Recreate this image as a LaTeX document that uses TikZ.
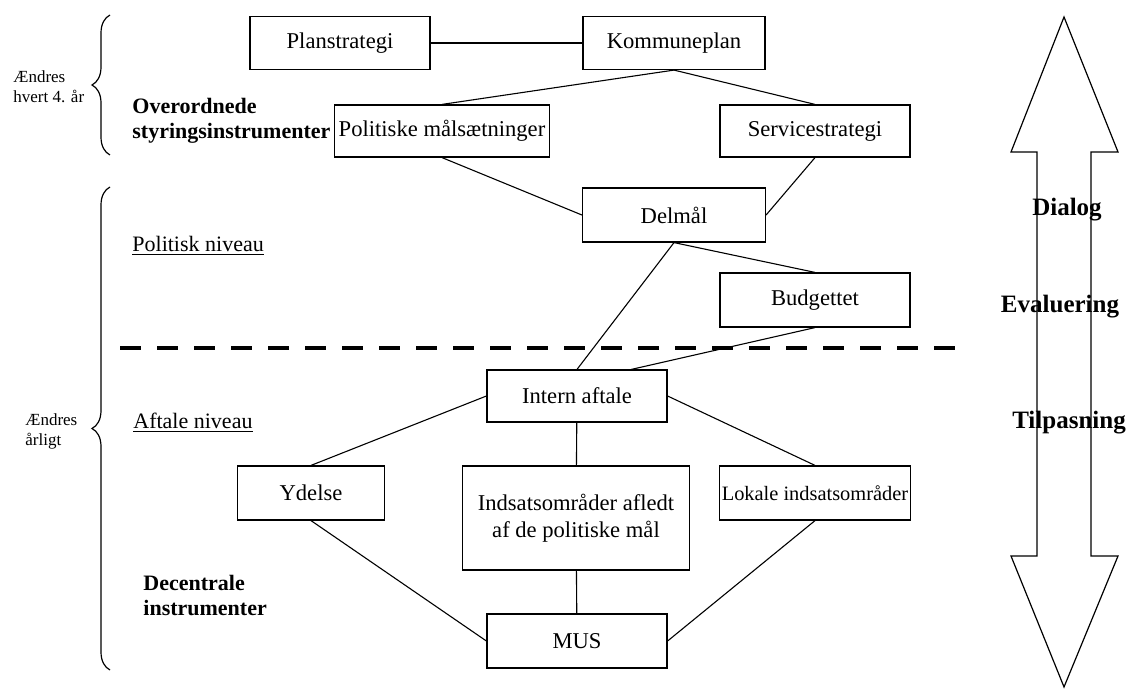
\documentclass[tikz,border=0pt]{standalone}
\usepackage{fontspec}
\setmainfont{Liberation Serif}
\usetikzlibrary{positioning,calc,decorations.pathreplacing}
\tikzset{
  blk/.style={draw,rectangle,minimum width=90pt,minimum height=26.5pt,line width=0.6pt,align=center,inner sep=2pt,font=\fontsize{11.3}{13.5}\selectfont},
  wblk/.style={blk,minimum width=95pt},
  lnk/.style={line width=0.55pt},
  lbl/.style={font=\fontsize{11}{12.5}\selectfont\bfseries,align=left,anchor=west,inner sep=0pt},
  ulbl/.style={font=\fontsize{11}{13}\selectfont,anchor=west,inner sep=0pt},
  smlbl/.style={font=\fontsize{8.5}{10}\selectfont,align=left,anchor=west,inner sep=0pt},
  arwlbl/.style={font=\fontsize{12.5}{14}\selectfont\bfseries,inner sep=0pt},
  brc/.style={decorate,decoration={brace,amplitude=9pt},line width=0.6pt},
  sep/.style={line width=2pt,dash pattern=on 10.5pt off 8pt}
}
\begin{document}
\begin{tikzpicture}[x=0.5pt,y=-0.5pt]
  \useasboundingbox (0,0) rectangle (1129,689);

  % top level
  \node[blk] (plan) at (340,43) {Planstrategi};
  \node[blk,minimum width=91pt] (kom) at (674,43) {Kommuneplan};
  \node[blk,minimum width=107.5pt,minimum height=26pt] (pol) at (442,131) {Politiske målsætninger};
  \node[wblk,minimum height=26pt] (serv) at (815,131) {Servicestrategi};
  \node[blk,minimum width=91.5pt,minimum height=27pt] (del) at (674,215) {Delmål};
  \node[wblk,minimum height=27pt] (bud) at (815,300) {Budgettet};

  % agreement level
  \node[blk,minimum height=26pt] (int) at (577,396) {Intern aftale};
  \node[blk,minimum width=73.5pt,minimum height=27pt] (yd) at (311,493) {Ydelse};
  \node[blk,minimum width=113.5pt,minimum height=52pt] (ind) at (576,518) {Indsatsområder afledt\\af de politiske mål};
  \node[wblk,minimum height=27pt,font=\fontsize{10.2}{12}\selectfont,inner sep=1pt] (lok) at (815,493) {Lokale indsatsområder};
  \node[blk,minimum height=27pt] (mus) at (577,641) {MUS};

  \draw[lnk] (plan) -- (kom);
  \draw[lnk] (kom.south) -- (pol.north);
  \draw[lnk] (kom.south) -- (serv.north);
  \draw[lnk] (pol.south) -- (del.west);
  \draw[lnk] (serv.south) -- (del.east);
  \draw[lnk] (del.south) -- (bud.north);
  \draw[lnk] (del.south) -- (int.north);
  \draw[lnk] (bud.south) -- ($(int.north)!0.6!(int.north east)$);
  \draw[lnk] (int.west) -- (yd.north);
  \draw[lnk] (int.east) -- (lok.north);
  \draw[lnk] (int) -- (ind);
  \draw[lnk] (ind) -- (mus);
  \draw[lnk] (yd.south) -- (mus.west);
  \draw[lnk] (lok.south) -- (mus.east);

  \coordinate (sepl) at (120,348);
  \coordinate (sepr) at (958,348);
  \draw[sep] (sepl) -- (sepr);

  % left side
  \draw[brc] (110,155) -- (110,15);
  \draw[brc] (110,670) -- (110,187);
  \node[smlbl] (chg4) at (13,87) {Ændres\\hvert 4. år};
  \node[smlbl] (chg1) at (25,431) {Ændres\\årligt};
  \node[lbl] (over) at (132,121) {Overordnede\\styringsinstrumenter};
  \node[ulbl] (polniv) at (132,246) {\underline{Politisk niveau}};
  \node[ulbl] (aftniv) at (133,423) {\underline{Aftale niveau}};
  \node[lbl] (dec) at (143,595) {Decentrale\\instrumenter};

  % right double arrow
  \draw[line width=0.6pt] (1064,17) -- (1118,152) -- (1091,152) -- (1091,556) -- (1118,556)
    -- (1064,687) -- (1011,556) -- (1037,556) -- (1037,152) -- (1011,152) -- cycle;
  \node[arwlbl] (dia) at (1067,210) {Dialog};
  \node[arwlbl] (eva) at (1060,307) {Evaluering};
  \node[arwlbl] (til) at (1069,423) {Tilpasning};
\end{tikzpicture}
\end{document}
